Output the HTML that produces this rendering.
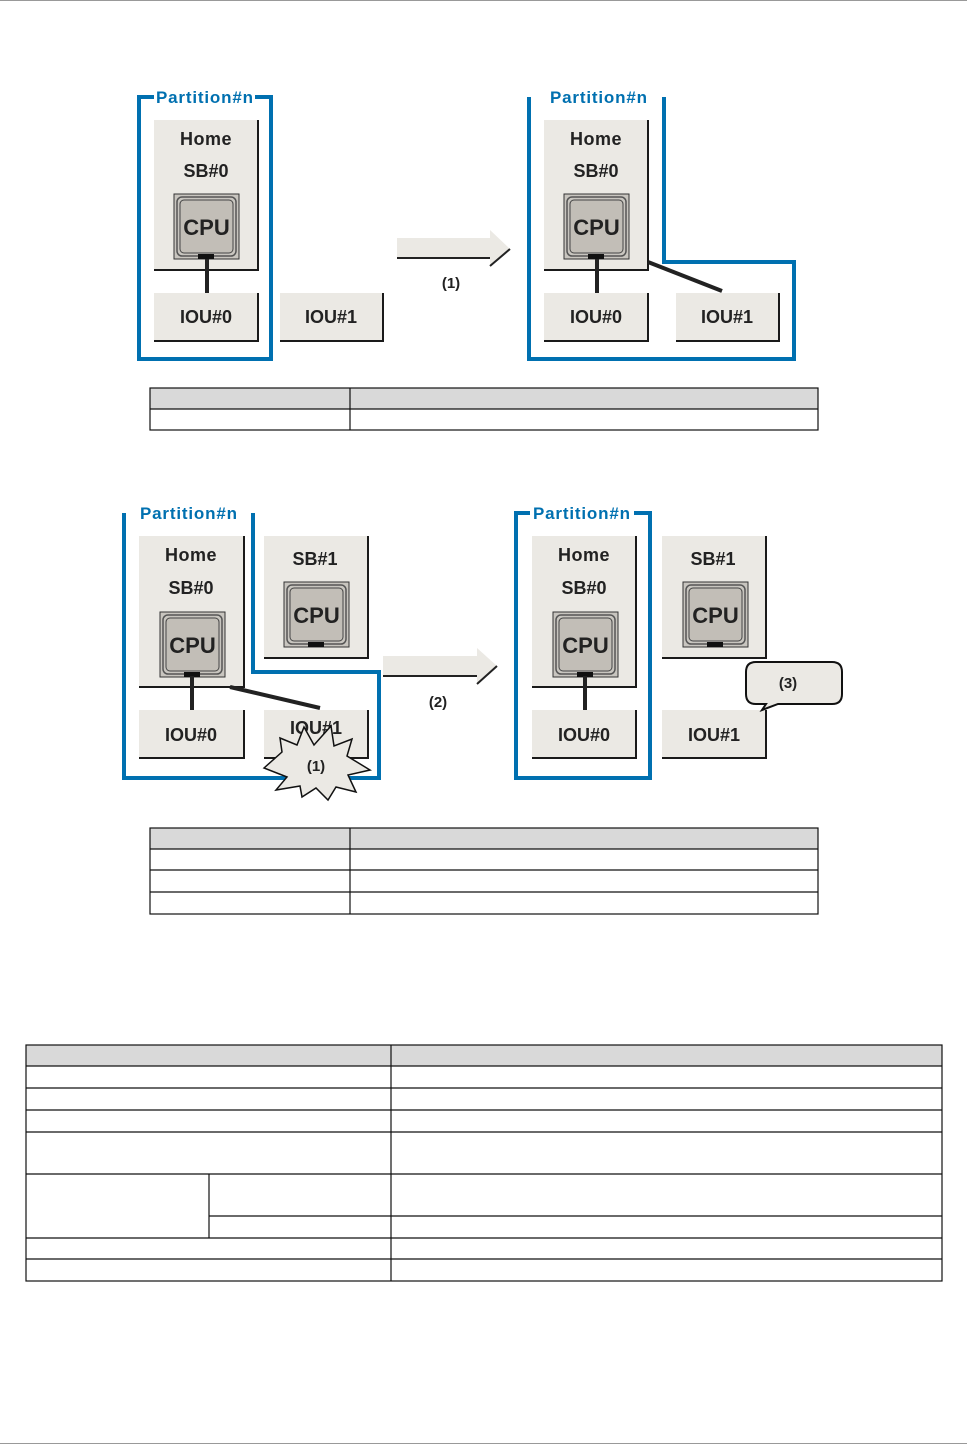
<!DOCTYPE html>
<html><head><meta charset="utf-8"><style>
html,body{margin:0;padding:0;background:#fff;width:967px;height:1446px;overflow:hidden}
svg{display:block}
text{font-family:"Liberation Sans",sans-serif;font-weight:bold;fill:#222}
.lb{fill:#0070b0;font-size:17px}
.bx{fill:#ebe9e4}
.sh{stroke:#1a1a1a;stroke-width:2;fill:none}
</style></head><body>
<svg width="967" height="1446" viewBox="0 0 967 1446">
<defs>
<g id="cpu">
<rect x="0" y="0" width="65" height="65" fill="#c8c5bf" stroke="#333" stroke-width="1"/>
<rect x="3" y="3" width="59" height="59" rx="5" fill="none" stroke="#555" stroke-width="1.5"/>
<rect x="6" y="6" width="53" height="53" rx="4" fill="#c2beb7" stroke="#444" stroke-width="1"/>
<rect x="24" y="60" width="16" height="5" fill="#111"/>
<text x="32.5" y="41" font-size="22" text-anchor="middle" fill="#111">CPU</text>
</g>
</defs>
<line x1="0" y1="0.5" x2="967" y2="0.5" stroke="#999"/>
<line x1="0" y1="1443.5" x2="967" y2="1443.5" stroke="#999"/>

<!-- Diagram 1 left -->
<rect x="139" y="97" width="132" height="262" fill="none" stroke="#0070b0" stroke-width="4"/>
<rect x="154" y="88" width="101" height="18" fill="#fff"/>
<text x="156" y="103" class="lb" textLength="97" lengthAdjust="spacing">Partition#n</text>
<rect x="154" y="120" width="104" height="150" class="bx"/>
<path d="M258 120 V270 H154" class="sh"/>
<text x="206" y="145" font-size="18" text-anchor="middle" letter-spacing="0.5">Home</text>
<text x="206" y="177" font-size="18" text-anchor="middle">SB#0</text>
<use href="#cpu" x="174" y="194"/>
<line x1="207" y1="259" x2="207" y2="293" stroke="#222" stroke-width="4"/>
<rect x="154" y="293" width="104" height="48" class="bx"/><path d="M258 293 V341 H154" class="sh"/>
<text x="206" y="323" font-size="18" text-anchor="middle">IOU#0</text>
<rect x="280" y="293" width="103" height="48" class="bx"/><path d="M383 293 V341 H280" class="sh"/>
<text x="331" y="323" font-size="18" text-anchor="middle">IOU#1</text>

<!-- arrow 1 -->
<path d="M397 238 H490 V230 L510 249 L490 266 V258 H397 Z" fill="#ebe9e4"/>
<path d="M397 258 H490 M490 266 L510 249" stroke="#222" stroke-width="2" fill="none"/>
<text x="451" y="288" font-size="15" text-anchor="middle" font-weight="normal">(1)</text>

<!-- Diagram 1 right -->
<path d="M529 97 V359 H794 V262 H664 V97" fill="none" stroke="#0070b0" stroke-width="4"/>
<rect x="546" y="88" width="106" height="18" fill="#fff"/>
<text x="550" y="103" class="lb" textLength="97" lengthAdjust="spacing">Partition#n</text>
<rect x="544" y="120" width="104" height="150" class="bx"/><path d="M648 120 V270 H544" class="sh"/>
<text x="596" y="145" font-size="18" text-anchor="middle" letter-spacing="0.5">Home</text>
<text x="596" y="177" font-size="18" text-anchor="middle">SB#0</text>
<use href="#cpu" x="564" y="194"/>
<line x1="597" y1="259" x2="597" y2="293" stroke="#222" stroke-width="4"/>
<line x1="648" y1="262" x2="722" y2="291" stroke="#222" stroke-width="4"/>
<rect x="544" y="293" width="104" height="48" class="bx"/><path d="M648 293 V341 H544" class="sh"/>
<text x="596" y="323" font-size="18" text-anchor="middle">IOU#0</text>
<rect x="676" y="293" width="103" height="48" class="bx"/><path d="M779 293 V341 H676" class="sh"/>
<text x="727" y="323" font-size="18" text-anchor="middle">IOU#1</text>

<!-- Table 1 -->
<rect x="150" y="388" width="668" height="21" fill="#d9d9d9"/>
<g stroke="#111" stroke-width="1.2" fill="none">
<rect x="150" y="388" width="668" height="42"/>
<line x1="150" y1="409" x2="818" y2="409"/>
<line x1="350" y1="388" x2="350" y2="430"/>
</g>

<!-- Diagram 2 left -->
<path d="M124 513 V778 H379 V672 H253 V513" fill="none" stroke="#0070b0" stroke-width="4"/>
<rect x="137" y="504" width="106" height="18" fill="#fff"/>
<text x="140" y="519" class="lb" textLength="97" lengthAdjust="spacing">Partition#n</text>
<rect x="139" y="536" width="105" height="151" class="bx"/><path d="M244 536 V687 H139" class="sh"/>
<text x="191" y="561" font-size="18" text-anchor="middle" letter-spacing="0.5">Home</text>
<text x="191" y="594" font-size="18" text-anchor="middle">SB#0</text>
<use href="#cpu" x="160" y="612"/>
<line x1="192" y1="676" x2="192" y2="710" stroke="#222" stroke-width="4"/>
<line x1="230" y1="687" x2="320" y2="708" stroke="#222" stroke-width="4"/>
<rect x="264" y="536" width="104" height="122" class="bx"/><path d="M368 536 V658 H264" class="sh"/>
<text x="315" y="565" font-size="18" text-anchor="middle">SB#1</text>
<use href="#cpu" x="284" y="582"/>
<rect x="139" y="710" width="105" height="48" class="bx"/><path d="M244 710 V758 H139" class="sh"/>
<text x="191" y="741" font-size="18" text-anchor="middle">IOU#0</text>
<rect x="264" y="710" width="104" height="48" class="bx"/><path d="M368 710 V758 H264" class="sh"/>
<text x="316" y="734" font-size="18" text-anchor="middle">IOU#1</text>
<path d="M264 768 L282 752 L280 738 L297 745 L304 727 L314 745 L331 726 L334 746 L352 739 L347 756 L370 770 L348 775 L356 792 L336 787 L328 800 L316 788 L302 797 L300 786 L276 790 L287 777 Z" fill="#ebe9e4" stroke="#111" stroke-width="1.5"/>
<text x="316" y="771" font-size="15" text-anchor="middle" font-weight="normal">(1)</text>

<!-- arrow 2 -->
<path d="M383 656 H477 V648 L497 666 L477 684 V676 H383 Z" fill="#ebe9e4"/>
<path d="M383 676 H477 M477 684 L497 666" stroke="#222" stroke-width="2" fill="none"/>
<text x="438" y="707" font-size="15" text-anchor="middle" font-weight="normal">(2)</text>

<!-- Diagram 2 right -->
<rect x="516" y="513" width="134" height="265" fill="none" stroke="#0070b0" stroke-width="4"/>
<rect x="530" y="504" width="104" height="18" fill="#fff"/>
<text x="533" y="519" class="lb" textLength="97" lengthAdjust="spacing">Partition#n</text>
<rect x="532" y="536" width="104" height="151" class="bx"/><path d="M636 536 V687 H532" class="sh"/>
<text x="584" y="561" font-size="18" text-anchor="middle" letter-spacing="0.5">Home</text>
<text x="584" y="594" font-size="18" text-anchor="middle">SB#0</text>
<use href="#cpu" x="553" y="612"/>
<line x1="585" y1="676" x2="585" y2="710" stroke="#222" stroke-width="4"/>
<rect x="532" y="710" width="104" height="48" class="bx"/><path d="M636 710 V758 H532" class="sh"/>
<text x="584" y="741" font-size="18" text-anchor="middle">IOU#0</text>
<rect x="662" y="536" width="104" height="122" class="bx"/><path d="M766 536 V658 H662" class="sh"/>
<text x="713" y="565" font-size="18" text-anchor="middle">SB#1</text>
<use href="#cpu" x="683" y="582"/>
<rect x="662" y="710" width="104" height="48" class="bx"/><path d="M766 710 V758 H662" class="sh"/>
<text x="714" y="741" font-size="18" text-anchor="middle">IOU#1</text>
<path d="M756 662 H832 Q842 662 842 672 V694 Q842 704 832 704 H778 L762 710 L766 704 H756 Q746 704 746 694 V672 Q746 662 756 662 Z" fill="#ebe9e4" stroke="#111" stroke-width="2"/>
<text x="788" y="688" font-size="15" text-anchor="middle" font-weight="normal">(3)</text>

<!-- Table 2 -->
<rect x="150" y="828" width="668" height="21" fill="#d9d9d9"/>
<g stroke="#111" stroke-width="1.2" fill="none">
<rect x="150" y="828" width="668" height="86"/>
<line x1="150" y1="849" x2="818" y2="849"/>
<line x1="150" y1="870" x2="818" y2="870"/>
<line x1="150" y1="892" x2="818" y2="892"/>
<line x1="350" y1="828" x2="350" y2="914"/>
</g>

<!-- Table 3 -->
<rect x="26" y="1045" width="916" height="21" fill="#d9d9d9"/>
<g stroke="#111" stroke-width="1.2" fill="none">
<rect x="26" y="1045" width="916" height="236"/>
<line x1="26" y1="1066" x2="942" y2="1066"/>
<line x1="26" y1="1088" x2="942" y2="1088"/>
<line x1="26" y1="1110" x2="942" y2="1110"/>
<line x1="26" y1="1132" x2="942" y2="1132"/>
<line x1="26" y1="1174" x2="942" y2="1174"/>
<line x1="209" y1="1216" x2="942" y2="1216"/>
<line x1="26" y1="1238" x2="942" y2="1238"/>
<line x1="26" y1="1259" x2="942" y2="1259"/>
<line x1="391" y1="1045" x2="391" y2="1281"/>
<line x1="209" y1="1174" x2="209" y2="1238"/>
</g>
</svg>
</body></html>
